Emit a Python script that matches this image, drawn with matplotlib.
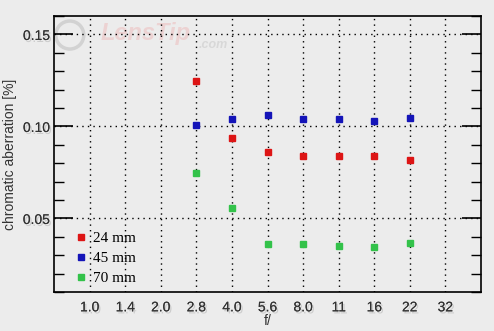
import matplotlib

matplotlib.use("Agg")
import matplotlib.pyplot as plt
import matplotlib.patheffects as pe
from matplotlib.patches import Ellipse
from matplotlib.ticker import MultipleLocator

apertures = ["1.0", "1.4", "2.0", "2.8", "4.0", "5.6", "8.0", "11", "16", "22", "32"]
measured = ["2.8", "4.0", "5.6", "8.0", "11", "16", "22"]
ca_24mm = [0.1245, 0.0935, 0.0859, 0.0837, 0.0837, 0.0837, 0.0815]
ca_45mm = [0.1005, 0.1038, 0.1060, 0.1038, 0.1038, 0.1027, 0.1043]
ca_70mm = [0.0745, 0.0554, 0.0359, 0.0359, 0.0348, 0.0342, 0.0364]

BG = "#ececec"
SANS = "Liberation Sans"
shadow = [pe.withSimplePatchShadow(offset=(1.2, -1.5), shadow_rgbFace="#c4c4c4", alpha=0.8), pe.Normal()]

fig = plt.figure(figsize=(4.94, 3.31), dpi=100)
fig.patch.set_facecolor(BG)
ax = fig.add_axes([54 / 494, 1 - 292 / 331, (481 - 54) / 494, (292 - 16) / 331])
ax.set_facecolor(BG)

xpos = [apertures.index(a) for a in measured]
series = [("24 mm", ca_24mm, "#dd1515"), ("45 mm", ca_45mm, "#1414b8"), ("70 mm", ca_70mm, "#33c24a")]
for label, vals, color in series:
    ax.plot(xpos, vals, linestyle="none", marker="s", markersize=4.2, color=color, label=label, zorder=3)

ax.set_xlim(-1, len(apertures))
ax.set_ylim(0.01, 0.16)
ax.set_xticks(range(len(apertures)))
ax.set_xticklabels(apertures)
ax.set_yticks([0.05, 0.10, 0.15])
ax.set_yticklabels(["0.05", "0.10", "0.15"])
ax.yaxis.set_minor_locator(MultipleLocator(0.01))

ax.tick_params(axis="x", length=0, pad=6, labelsize=10, labelcolor="#333333")
ax.tick_params(axis="y", which="major", direction="in", length=14, width=1.2, left=True, right=True,
               labelsize=10, labelcolor="#333333", pad=3)
ax.tick_params(axis="y", which="minor", direction="in", length=7, width=1.0, left=True, right=True)
for lbl in ax.get_xticklabels() + ax.get_yticklabels():
    lbl.set_fontfamily(SANS)
    lbl.set_path_effects(shadow)

ax.grid(True, which="major", color="black", linestyle=(0, (1, 3)), linewidth=1.0)
for s in ax.spines.values():
    s.set_linewidth(1.2)

ax.set_ylabel("chromatic aberration [%]", fontsize=10, color="#333333", labelpad=4, family=SANS)
ax.set_xlabel("f/", fontsize=10, color="#333333", labelpad=0, family=SANS)

# faint watermark
ax.add_patch(Ellipse((0.037, 0.931), 28 / 427, 28 / 276, transform=ax.transAxes, fill=False,
                     edgecolor="#d2d2d2", linewidth=2.5, zorder=0))
ax.text(0.108, 0.935, "LensTip", transform=ax.transAxes, fontsize=17, fontweight="bold", style="italic",
        color="#ecd2d2", va="center", family=SANS, zorder=0)
ax.text(0.338, 0.895, ".com", transform=ax.transAxes, fontsize=9, fontweight="bold", style="italic",
        color="#d8d8d8", va="center", family=SANS, zorder=0)

leg = ax.legend(loc="lower left", bbox_to_anchor=(0.02, -0.025), frameon=False, handlelength=0.6,
                handletextpad=0.5, labelspacing=0.42, borderpad=0.4,
                prop={"family": "Liberation Serif", "size": 11})

fig.savefig("out.png", dpi=100, facecolor=BG)
